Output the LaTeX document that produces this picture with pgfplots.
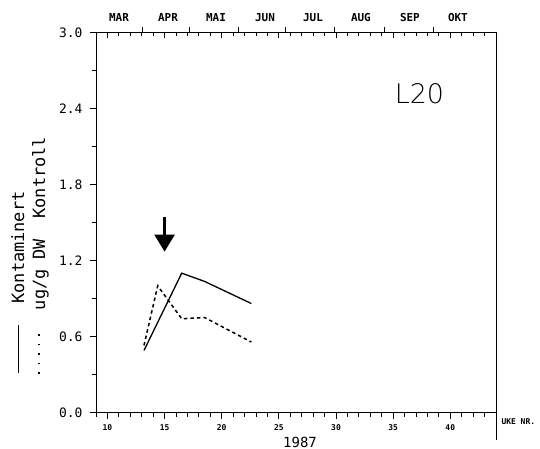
\documentclass[border=0pt]{standalone}
\usepackage{fontspec}
\setmainfont{DejaVu Sans Mono}
\newfontfamily\thinfont{DejaVu Sans ExtraLight}
\usepackage{pgfplots}
\pgfplotsset{compat=1.18}
\usetikzlibrary{arrows.meta}
\begin{document}
\begin{tikzpicture}
\useasboundingbox (0bp,0bp) rectangle (540bp,-449bp);
\pgfplotsset{common/.style={scale only axis, width=400bp, height=380bp,
  xmin=9, xmax=44, ymin=0, ymax=3, at={(96bp,-412.5bp)}, anchor=south west,
  axis line style={line width=0.9bp}, tick style={line width=0.8bp, black}}}
% main axis
\begin{axis}[common,
  xtick pos=left, ytick pos=left, tick align=outside,
  major tick length=6bp, minor tick length=4bp,
  xtick={10,15,20,25,30,35,40}, minor xtick={9,...,44},
  ytick={0,0.6,1.2,1.8,2.4,3.0}, minor ytick={0.3,0.9,1.5,2.1,2.7},
  /pgf/number format/assume math mode=true,
  yticklabel style={/pgf/number format/.cd, fixed, fixed zerofill, precision=1, /tikz/.cd,
    font=\fontsize{13}{13}\selectfont, xshift=-4bp},
  xticklabel style={font=\bfseries\fontsize{8}{8}\selectfont, yshift=-3bp},
  clip=false]
\addplot[black, line width=1.3bp] coordinates {(13.2,0.49) (16.5,1.10) (18.5,1.035) (22.6,0.86)};
\addplot[black, line width=1.5bp, dash pattern=on 3.5bp off 3bp] coordinates {(13.2,0.53) (14.4,1.00) (16.5,0.74) (18.5,0.75) (22.6,0.556)};
\draw[line width=2.5bp, -{Triangle[width=20bp,length=17bp]}] (axis cs:15,1.54) -- (axis cs:15,1.27);
\node[font=\thinfont\fontsize{27}{27}\selectfont] at (axis cs:37.3,2.52) {L20};
\end{axis}
% top weekly inward ticks
\begin{axis}[common, hide y axis, axis x line*=top, tick align=inside,
  xtick={9,...,44}, xticklabels={}, major tick length=4bp,
  extra x ticks={10,15,20,25,30,35,40}, extra x tick labels={},
  extra x tick style={major tick length=6bp}]
\end{axis}
% month axis
\begin{axis}[common, hide y axis, axis x line*=top, tick align=outside,
  xtick={13.1,17.2,21.5,25.6,29.9,34.2,38.5}, xticklabels={}, major tick length=5bp,
  extra x ticks={11.01,15.3,19.5,23.79,27.99,32.18,36.47,40.67},
  extra x tick labels={MAR,APR,MAI,JUN,JUL,AUG,SEP,OKT},
  extra x tick style={major tick length=0pt,
    xticklabel style={font=\bfseries\fontsize{11}{11}\selectfont, yshift=7bp}}]
\end{axis}
\draw[line width=0.9bp] (496bp,-412.5bp) -- (496bp,-440bp);
\node[font=\bfseries\fontsize{8}{8}\selectfont, anchor=west] at (498bp,-422bp) {UKE NR.};
\node[font=\fontsize{14}{14}\selectfont] at (300bp,-442bp) {1987};
\node[rotate=90, anchor=base, font=\fontsize{17}{17}\selectfont] at (24bp,-247.5bp) {Kontaminert};
\node[rotate=90, anchor=base, font=\fontsize{17}{17}\selectfont] at (45bp,-223.5bp) {ug/g DW\ \ Kontroll};
\draw[line width=1bp] (18bp,-325bp) -- (18bp,-373bp);
\draw[line width=1.4bp, dash pattern=on 1.5bp off 8bp] (39bp,-334bp) -- (39bp,-376bp);
\end{tikzpicture}
\end{document}
